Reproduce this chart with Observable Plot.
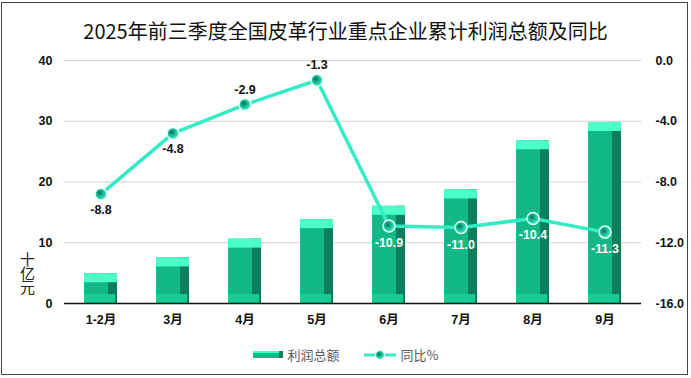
<!DOCTYPE html>
<html><head><meta charset="utf-8">
<script src="https://cdn.jsdelivr.net/npm/d3@7"></script>
<script src="https://cdn.jsdelivr.net/npm/@observablehq/plot@0.6"></script>
<style>
body{margin:0;background:#fff;}
#wrap{position:relative;width:691px;height:378px;overflow:hidden;font-family:"Liberation Sans","Noto Sans CJK SC",sans-serif;}
#frame{position:absolute;left:1px;top:2px;width:687px;height:373px;border:1px solid #444;box-sizing:border-box;}
#title{position:absolute;left:0;top:16px;width:691px;text-align:center;font-family:"Noto Sans CJK SC",sans-serif;font-size:20px;color:#111;}
#chart{position:absolute;left:0;top:0;}
#ylab{position:absolute;left:18px;top:252px;writing-mode:vertical-rl;text-orientation:upright;font-family:"Noto Sans CJK SC",sans-serif;font-size:15px;line-height:18px;letter-spacing:-1px;color:#222;}
#legend{position:absolute;top:345px;left:0;width:691px;display:flex;justify-content:center;align-items:center;gap:10px;font-family:"Noto Sans CJK SC",sans-serif;font-size:13px;color:#595959;}
.sw{display:inline-flex;align-items:center;gap:3px;}
</style></head>
<body>
<svg width="0" height="0" style="position:absolute">
<defs>
<radialGradient id="mk" cx="40%" cy="40%" r="60%">
<stop offset="0%" stop-color="#0a6e55"/>
<stop offset="45%" stop-color="#17b892"/>
<stop offset="100%" stop-color="#3ff0c8"/>
</radialGradient>
</defs>
</svg>
<div id="wrap">
<div id="frame"></div>
<div id="title">2025年前三季度全国皮革行业重点企业累计利润总额及同比</div>
<div id="chart"></div>
<div id="ylab">十亿元</div>
<div id="legend">
<span class="sw"><svg width="32" height="10"><rect x="0" y="1" width="30" height="7" fill="#12b886"/><rect x="0" y="1" width="30" height="2" fill="#4dffc8"/><rect x="26" y="1" width="4" height="7" fill="#0b7f5c"/></svg>利润总额</span>
<span class="sw" style="margin-left:14px"><svg width="34" height="12"><line x1="0" y1="6" x2="32" y2="6" stroke="#33ecc6" stroke-width="3"/><circle cx="16" cy="6" r="4.5" fill="url(#mk)" stroke="#fff" stroke-width="1"/></svg>同比%</span>
</div>
</div>
<script>
const months = ["1-2月","3月","4月","5月","6月","7月","8月","9月"];
const profit = [4.9, 7.5, 10.6, 13.8, 16.0, 18.7, 26.8, 29.8];
const yoy = [-8.8, -4.8, -2.9, -1.3, -10.9, -11.0, -10.4, -11.3];
const leftTicks = [0, 10, 20, 30, 40];
const rightTicks = [0.0, -4.0, -8.0, -12.0, -16.0];

// map right-axis value onto the left scale domain (-16..0 -> 0..40)
const toLeft = v => (v + 16) * 2.5;
const rows = months.map((m, i) => ({m, p: profit[i], r: yoy[i], r2: toLeft(yoy[i]), i}));
const bw = 33;

const plot = Plot.plot({
  width: 691, height: 340,
  marginTop: 60, marginBottom: 37, marginLeft: 64, marginRight: 50,
  x: {domain: months, paddingInner: 0.54, paddingOuter: 0.27, axis: null, label: null},
  y: {domain: [0, 40], axis: null, label: null},
  style: {fontFamily: '"Liberation Sans","Noto Sans CJK SC",sans-serif', background: "transparent"},
  marks: [
    Plot.ruleY(leftTicks.filter(d => d > 0), {stroke: "#d0d0d0", strokeWidth: 1}),
    Plot.axisY({ticks: leftTicks, anchor: "left", label: null, tickSize: 0, tickPadding: 12, fontSize: 12.5, fontWeight: "bold", fill: "#111", tickFormat: d => d}),
    Plot.axisY({ticks: rightTicks.map(toLeft), anchor: "right", label: null, tickSize: 0, tickPadding: 14, fontSize: 12.5, fontWeight: "bold", fill: "#111", tickFormat: d => (d / 2.5 - 16).toFixed(1), textAnchor: "start"}),
    Plot.axisX({anchor: "bottom", label: null, tickSize: 0, tickPadding: 12, fontSize: 12.5, fontWeight: "bold", fill: "#111"}),
    // bars: body
    Plot.barY(rows, {x: "m", y: "p", fill: "#12b886"}),
    // right dark side
    Plot.barY(rows, {x: "m", y: "p", insetLeft: bw - 9, fill: "#0b7f5c"}),
    // bottom bevel
    Plot.rectY(rows, {x: "m", y1: 0, y2: 0, insetTop: -9, insetRight: 2, fill: "#17cc93"}),
    // top light cap
    Plot.rectY(rows, {x: "m", y1: "p", y2: "p", insetBottom: -9, fill: "#4dffc8"}),
    Plot.ruleY([0], {stroke: "#111", strokeWidth: 1.3}),
    // line
    Plot.line(rows, {x: "m", y: "r2", stroke: "#33ecc6", strokeWidth: 3.5}),
    Plot.dot(rows, {x: "m", y: "r2", r: 6, fill: "url(#mk)", stroke: "#e8fff8", strokeWidth: 1.5}),
    // labels
    Plot.text(rows.filter(d => d.i === 0 || d.i === 1), {x: "m", y: "r2", text: d => d.r.toFixed(1), dy: 16, fontSize: 12.5, fontWeight: "bold", fill: "#111"}),
    Plot.text(rows.filter(d => d.i === 2 || d.i === 3), {x: "m", y: "r2", text: d => d.r.toFixed(1), dy: -15, fontSize: 12.5, fontWeight: "bold", fill: "#111"}),
    Plot.text(rows.filter(d => d.i >= 4), {x: "m", y: "r2", text: d => d.r.toFixed(1), dy: 17, fontSize: 12.5, fontWeight: "bold", fill: "#fff"})
  ]
});
document.getElementById("chart").appendChild(plot);
</script>
</body></html>
